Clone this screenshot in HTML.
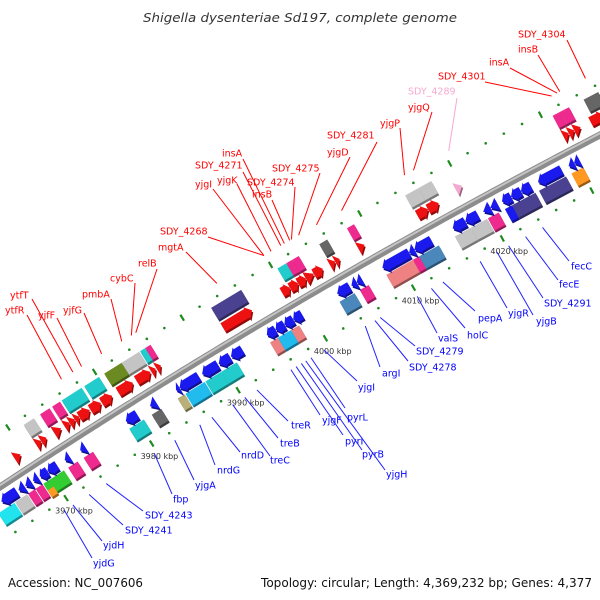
<!DOCTYPE html>
<html><head><meta charset="utf-8">
<style>
html,body{margin:0;padding:0;background:#fff;}
svg{display:block;}
text{font-family:"DejaVu Sans","Liberation Sans",sans-serif;}
</style></head>
<body>
<svg id="map" width="600" height="600" viewBox="0 0 600 600" xmlns="http://www.w3.org/2000/svg">
<rect width="600" height="600" fill="#fff"/>
<text x="300" y="22" text-anchor="middle" font-size="12" font-style="italic" fill="#333" textLength="314" lengthAdjust="spacingAndGlyphs">Shigella dysenteriae Sd197, complete genome</text>
<g id="layer"></g>
<text x="8" y="587" font-size="12" fill="#111" textLength="135" lengthAdjust="spacingAndGlyphs">Accession: NC_007606</text>
<text x="592" y="587" font-size="12" fill="#111" text-anchor="end" textLength="331" lengthAdjust="spacingAndGlyphs">Topology: circular; Length: 4,369,232 bp; Genes: 4,377</text>
</svg>
<script>
// ---- data (kbp) ----
const fwdCds = [[3967.9,3968.6],[3970.4,3971.0],[3971.0,3971.6],[3972.5,3973.3],[3973.7,3974.3],[3974.3,3974.9],[3974.9,3975.4],[3975.4,3976.6],[3976.7,3977.9],[3978.0,3979.2],[3979.9,3981.6],[3982.0,3983.6],[3983.7,3984.2],[3984.3,3984.8],[3991.9,3995.2],[3998.6,3999.5],[3999.5,4000.4],[4000.4,4001.3],[4001.3,4002.2],[4002.2,4003.2],[4004.0,4004.6],[4004.6,4005.1],[4007.2,4007.9],[4013.8,4015.0],[4015.0,4016.2],[4030.0,4030.6],[4030.6,4031.2],[4031.2,4031.9],[4033.0,4034.5]];
const revCds = [[3964.5,3966.3],[3966.5,3967.2],[3967.3,3968.0],[3968.2,3968.8],[3969.0,3969.9],[3969.9,3971.0],[3971.9,3972.5],[3973.7,3974.3],[3979.0,3980.3],[3981.8,3982.5],[3984.8,3985.2],[3985.2,3987.4],[3987.8,3989.6],[3989.7,3991.0],[3991.1,3992.4],[3995.2,3996.2],[3996.2,3997.2],[3997.2,3998.2],[3998.2,3999.2],[4003.2,4004.6],[4004.8,4005.4],[4005.4,4006.0],[4008.3,4011.3],[4011.3,4011.9],[4011.9,4013.8],[4016.2,4017.6],[4017.6,4019.0],[4019.6,4020.4],[4020.4,4021.2],[4021.7,4022.7],[4022.7,4023.8],[4023.8,4024.9],[4025.7,4028.3],[4029.1,4029.7],[4029.7,4030.3]];
const fwdBox = [[3970.4,3971.6,'gray'],[3972.3,3973.4,'pink'],[3973.7,3974.6,'pink'],[3974.8,3977.1,'cyan'],[3977.4,3979.1,'cyan'],[3979.7,3981.7,'olive'],[3981.7,3983.7,'gray'],[3983.8,3984.4,'cyan'],[3984.4,3985.0,'pink'],[3991.9,3995.3,'navy'],[3999.4,4000.4,'cyan'],[4000.4,4001.1,'pink'],[4001.1,4001.8,'pink'],[4004.1,4005.0,'dgray'],[4007.2,4008.0,'pink'],[4013.7,4015.2,'gray'],[4015.2,4016.6,'gray'],[4030.0,4030.6,'pink'],[4030.6,4031.2,'pink'],[4031.2,4031.8,'pink'],[4033.4,4035.0,'dgray']];
const revBox = [[3963.6,3965.5,'bcyan'],[3965.6,3967.0,'gray'],[3967.1,3967.9,'pink'],[3968.0,3968.8,'pink'],[3968.9,3971.3,'green'],[3971.8,3972.9,'pink'],[3973.6,3974.7,'pink'],[3978.9,3980.6,'cyan'],[3981.5,3982.6,'dgray'],[3984.5,3985.3,'khaki'],[3985.4,3987.6,'lblue'],[3987.7,3989.5,'cyan'],[3989.5,3991.3,'cyan'],[3995.1,3996.0,'salmon'],[3996.0,3997.5,'lblue'],[3997.5,3998.4,'salmon'],[4003.0,4004.7,'steel'],[4005.3,4006.3,'pink'],[4008.3,4011.3,'salmon'],[4011.3,4012.0,'pink'],[4012.0,4014.2,'steel'],[4016.0,4017.8,'gray'],[4017.8,4019.6,'gray'],[4019.7,4020.9,'pink'],[4021.6,4022.4,'blue'],[4022.4,4025.0,'navy'],[4025.4,4028.4,'navy'],[4029.0,4030.3,'orange']];
const orangeBox = [[3968.9,3969.6]];
const pinkArrow = [[4018.3,4019.0]];
const tickKbp = [3970,3980,3990,4000,4010,4020];
const tickLabels = ['3970 kbp','3980 kbp','3990 kbp','4000 kbp','4010 kbp','4020 kbp'];
const fwdNames = ['ytfR','ytfT','yjfF','yjfG','pmbA','cybC','relB','mgtA','SDY_4268','yjgI','yjgK','SDY_4271','insA','insB','SDY_4274','SDY_4275','yjgD','SDY_4281','yjgP','yjgQ','SDY_4289','SDY_4301','insA','insB','SDY_4304'];
const fwdLabelKbp = [3975.9,3977.2,3978.2,3980.5,3982.8,3983.9,3984.4,3993.6,3998.9,3998.9,3999.7,4000.8,4001.2,4001.8,4002.0,4002.8,4004.8,4007.6,4014.6,4015.6,4019.5,4030.8,4031.4,4031.7,4034.5];
const revNames = ['yjdG','yjdH','SDY_4241','SDY_4243','fbp','yjgA','nrdG','nrdD','treC','treB','treR','yjgF','pyrI','pyrB','yjgH','pyrL','yjgI','argI','SDY_4278','SDY_4279','valS','holC','pepA','yjgR','yjgB','SDY_4291','fecE','fecC'];
const revLabelKbp = [3969.2,3970.2,3972.1,3974.1,3979.7,3982.1,3985.0,3986.4,3988.8,3990.2,3991.6,3995.5,3996.1,3996.7,3997.2,3997.8,3999.3,4004.0,4005.1,4005.7,4009.9,4011.5,4012.8,4017.0,4018.9,4020.2,4022.1,4024.0];

// ---- layout (label text x, text center y, leader start x, y) ----
const fwdLayout = [[5,310,27,315],[10,295,32,299],[38,315,57,318],[63,310,84,313],[82,294,111,299],[110,278,135,283],[138,263,157,269],[158,247,186,252],[160,231,208,237],[195,184,213,189],[217,180,237,184],[195,165,243,172],[222,153,243,159],[252,194,272,200],[247,182,295,187],[272,168,320,173],[327,152,350,157],[327,135,377,142],[380,123,400,128],[408,107,432,112],[408,91,457,98],[438,76,485,82],[489,62,510,68],[518,49,538,55],[518,34,567,40]];
const revLayout = [[93,563,92,558],[103,545,102,541],[125,530,123,525],[145,515,143,511],[173,499,172,494],[195,485,194,480],[217,470,215,465],[241,455,240,452],[270,460,270,456],[280,443,278,438],[291,425,288,421],[322,420,320,415],[345,441,343,435],[362,454,362,450],[386,474,385,470],[347,417,345,408],[358,387,357,381],[382,373,380,367],[409,367,408,361],[416,351,415,346],[438,338,437,333],[467,335,465,328],[478,318,475,311],[508,313,507,308],[536,321,533,315],[544,303,543,298],[559,284,558,280],[571,266,569,261]];

const colors = {gray:'#c4c4c4',pink:'#ee2a8e',cyan:'#22cccc',bcyan:'#22e4ee',olive:'#6b8a22',navy:'#4a4290',dgray:'#666',green:'#33cc33',khaki:'#b8b078',lblue:'#22bbee',salmon:'#ee8282',steel:'#4a88bb',blue:'#1a1aee',orange:'#ff9922',red:'#ee1111',lpink:'#f7a8d0'};

// ---- geometry ----
const A=[0,487],B=[250,330],C=[600,135];
const d=2*(A[0]*(B[1]-C[1])+B[0]*(C[1]-A[1])+C[0]*(A[1]-B[1]));
const sq=p=>p[0]*p[0]+p[1]*p[1];
const ux=(sq(A)*(B[1]-C[1])+sq(B)*(C[1]-A[1])+sq(C)*(A[1]-B[1]))/d;
const uy=(sq(A)*(C[0]-B[0])+sq(B)*(A[0]-C[0])+sq(C)*(B[0]-A[0]))/d;
const R=Math.hypot(A[0]-ux,A[1]-uy);
const a0=Math.atan2(461-uy,42-ux), a1=Math.atan2(203-uy,483-ux);
const kA=(a1-a0)/50;
function pt(kbp,p){const a=a0+(kbp-3970)*kA;const r=R+p;return [ux+r*Math.cos(a),uy+r*Math.sin(a)];}
function pts(list){return list.map(q=>{const v=pt(q[0],q[1]);return v[0].toFixed(1)+','+v[1].toFixed(1);}).join(' ');}

const NS='http://www.w3.org/2000/svg';
const layer=document.getElementById('layer');
function mk(tag,attrs,parent){const e=document.createElementNS(NS,tag);for(const k in attrs)e.setAttribute(k,attrs[k]);(parent||layer).appendChild(e);return e;}
function shade(c){const n=parseInt(c.slice(1).length===3?c.slice(1).split('').map(x=>x+x).join(''):c.slice(1),16);const f=0.6;return 'rgb('+Math.round((n>>16&255)*f)+','+Math.round((n>>8&255)*f)+','+Math.round((n&255)*f)+')';}
function shape(list,color,name){
  const sh=mk('polygon',{points:pts(list),fill:shade(color),transform:'translate(1.2,2)'});
  
  
  const e=mk('polygon',{points:pts(list),fill:color});
  
  
}
function arrow(s,e,p,dir,color,name){
  const len=e-s, h=Math.min(0.6,len*0.5);
  let L;
  if(len<0.9){
    L = dir>0 ? [[s,p-7],[e,p],[s,p+7]] : [[e,p-7],[s,p],[e,p+7]];
  } else if(dir>0){
    L=[[s,p-5],[e-h,p-5],[e-h,p-7],[e,p],[e-h,p+7],[e-h,p+5],[s,p+5]];
  } else {
    L=[[e,p-5],[s+h,p-5],[s+h,p-7],[s,p],[s+h,p+7],[s+h,p+5],[e,p+5]];
  }
  shape(L,color,name);
}
function box(s,e,p,color,name,half){const hh=half||7;shape([[s,p-hh],[e,p-hh],[e,p+hh],[s,p+hh]],color,name);}

// backbone
const bb=[];for(let k=3955;k<=4045;k+=0.5)bb.push([k,0]);
const bl=mk('polyline',{points:pts(bb),fill:'none',stroke:'#8c8c8c','stroke-width':7});


const bl2=mk('polyline',{points:pts(bb.map(q=>[q[0],1.5])),fill:'none',stroke:'#c4c4c4','stroke-width':2});



// dots / dashes
for(let k=3959;k<=4037;k+=2){
  const big=((k+1)%10===0);
  if(big){const p1=pt(k,42),p2=pt(k,49);const l=mk('line',{x1:p1[0],y1:p1[1],x2:p2[0],y2:p2[1],stroke:'#1f8a1f','stroke-width':2.2});
    
    }
  else{const c=pt(k,46);const e=mk('circle',{cx:c[0],cy:c[1],r:1.3,fill:'#1f8a1f'});
    
    }
}
for(let k=3960;k<=4036;k+=2){
  const big=(k%10===0);
  if(big){const p1=pt(k,-42),p2=pt(k,-49);const l=mk('line',{x1:p1[0],y1:p1[1],x2:p2[0],y2:p2[1],stroke:'#1f8a1f','stroke-width':2.2});
    
    }
  else{const c=pt(k,-46);const e=mk('circle',{cx:c[0],cy:c[1],r:1.3,fill:'#1f8a1f'});
    
    }
}

// features
fwdBox.forEach(b=>box(b[0],b[1],32,colors[b[2]],'forward-gene-box'));
revBox.forEach(b=>box(b[0],b[1],-28,colors[b[2]],'reverse-gene-box'));
orangeBox.forEach(b=>box(b[0],b[1],-33,colors.orange,'reverse-orange-box',4));
fwdCds.forEach(c=>arrow(c[0],c[1],16,1,colors.red,'forward-cds-arrow'));
revCds.forEach(c=>arrow(c[0],c[1],-13,-1,colors.blue,'reverse-cds-arrow'));
pinkArrow.forEach(c=>arrow(c[0],c[1],20,1,colors.lpink,'pseudogene-arrow'));

// tick labels
tickKbp.forEach((k,i)=>{const c=pt(k,-60);const t=mk('text',{x:c[0],y:c[1]+3,'text-anchor':'middle','font-size':8,fill:'#333'});t.textContent=tickLabels[i];
  
  });

// gene labels
function labels(names,kbps,layout,p,color,lineColor,nm){
  names.forEach((n,i)=>{
    const L=layout[i], e=pt(kbps[i],p);
    const ln=mk('line',{x1:L[2],y1:L[3],x2:e[0],y2:e[1],stroke:(n==='SDY_4289'?'#f7a8d0':lineColor),'stroke-width':1});
    
    
    const t=mk('text',{x:L[0],y:L[1]+3.5,'font-size':9.5,fill:(n==='SDY_4289'?'#f7a8d0':color)});
    t.textContent=n;
    
    
  });
}
labels(fwdNames,fwdLabelKbp,fwdLayout,57,'#f00','#f00','forward-gene');
labels(revNames,revLabelKbp,revLayout,-55,'#00f','#22f','reverse-gene');
</script>
</body></html>
